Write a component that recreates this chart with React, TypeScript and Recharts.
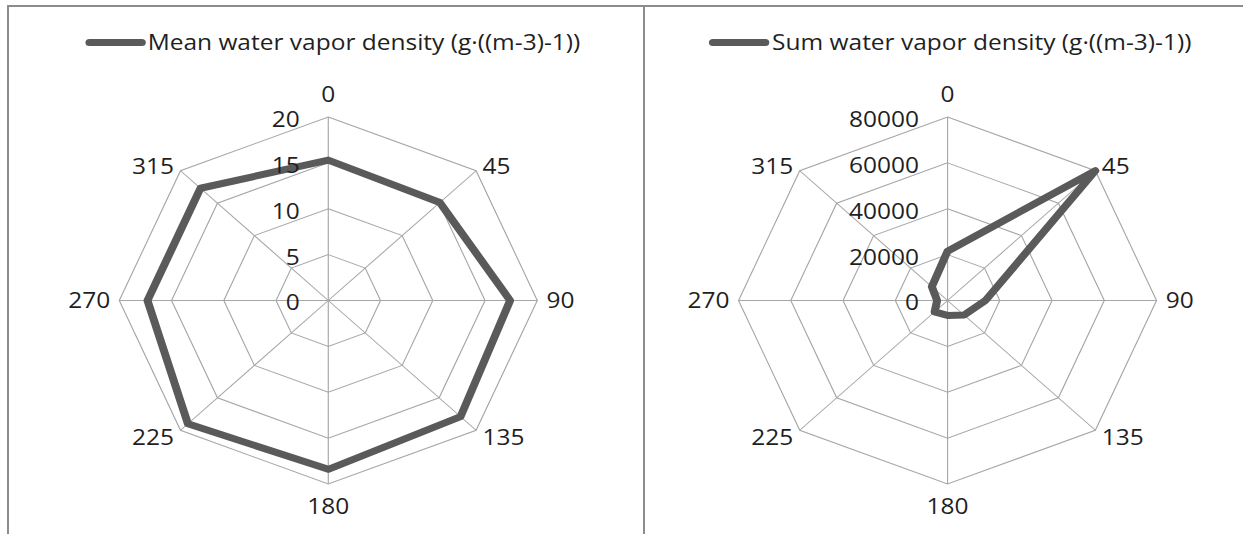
import { RadarChart, PolarGrid, PolarAngleAxis, PolarRadiusAxis, Radar, Legend } from 'recharts';

const directions = ['0', '45', '90', '135', '180', '225', '270', '315'];
const meanDensity = [15.3, 15.1, 17.4, 17.9, 18.4, 19.0, 17.3, 17.3];
const sumDensity = [21500, 80000, 14500, 9000, 6500, 7000, 4000, 8500];
const meanTicks = [0, 5, 10, 15, 20];
const sumTicks = [0, 20000, 40000, 60000, 80000];
const meanLabel = 'Mean water vapor density (g·((m-3)-1))';
const sumLabel = 'Sum water vapor density (g·((m-3)-1))';

// the source picture was widened, so the charts are stretched the same way
const STRETCH = 1.139;
const FONT = '"Open Sans", sans-serif';
const FONT_SIZE = 21.5;
const LINE = '#5a5a5a';
const GRID = '#a6a6a6';
const TEXT = '#1f1f1f';
const FRAME = '#8c8c8c';

function AngleTick({ x, y, payload, cx0 }: any) {
  const dx = x - cx0;
  let anchor = 'middle';
  if (dx > 1) anchor = 'start';
  else if (dx < -1) anchor = 'end';
  let base = y + 8;
  if (anchor === 'middle') base = payload.value === '0' ? y - 7 : y + 22;
  else if (Math.abs(Math.abs(dx) - Math.abs(y - 300.5)) < 20) base = y + 9;
  return (
    <text x={x} y={base} textAnchor={anchor} fill={TEXT} fontSize={FONT_SIZE} fontFamily={FONT}>
      {payload.value}
    </text>
  );
}

function RadiusTick({ x, y, payload }: any) {
  return (
    <text x={x - 25} y={y + 10} textAnchor="end" fill={TEXT} fontSize={FONT_SIZE} fontFamily={FONT}>
      {payload.value}
    </text>
  );
}

function LineLegend({ label }: { label: string }) {
  return (
    <div style={{ display: 'flex', alignItems: 'center', justifyContent: 'center', fontFamily: FONT, fontSize: FONT_SIZE, color: TEXT, lineHeight: '28px' }}>
      <span style={{ display: 'inline-block', width: 53, height: 7, borderRadius: 4, background: LINE, marginRight: 2 }} />
      <span>{label}</span>
    </div>
  );
}

interface PanelProps {
  left: number;
  width: number;
  cx: number;
  legendCenter: number;
  values: number[];
  ticks: number[];
  label: string;
}

function RadarPanel({ left, width, cx, legendCenter, values, ticks, label }: PanelProps) {
  const data = directions.map((d, i) => ({ dir: d, value: values[i] }));
  return (
    <div style={{ position: 'absolute', left, top: 0, width, height: 534, transform: `scaleX(${STRETCH})`, transformOrigin: 'left top' }}>
      <RadarChart width={width} height={534} data={data} cx={cx} cy={300.5} outerRadius={183.5} margin={{ top: 0, right: 0, bottom: 0, left: 0 }}>
        <PolarGrid gridType="polygon" stroke={GRID} strokeWidth={1} />
        <PolarAngleAxis dataKey="dir" tickLine={false} axisLine={false} tick={(p: any) => <AngleTick {...p} cx0={cx} />} />
        <PolarRadiusAxis
          angle={90}
          domain={[ticks[0], ticks[ticks.length - 1]]}
          ticks={ticks as any}
          tickCount={ticks.length}
          axisLine={false}
          tickLine={false}
          tick={(p: any) => <RadiusTick {...p} />}
        />
        <Radar
          dataKey="value"
          stroke={LINE}
          strokeWidth={7}
          strokeLinejoin="round"
          fill="none"
          fillOpacity={0}
          dot={false}
          isAnimationActive={false}
        />
        <Legend
          verticalAlign="top"
          wrapperStyle={{ top: 28, left: 0, width: legendCenter * 2 }}
          content={() => <LineLegend label={label} />}
        />
      </RadarChart>
    </div>
  );
}

export default function App() {
  return (
    <div style={{ position: 'relative', width: 1243, height: 534, overflow: 'hidden', background: '#fff' }}>
      <style>{'body { margin: 0; }'}</style>
      <div style={{ position: 'absolute', left: 7, top: 5, width: 634, height: 560, border: `2px solid ${FRAME}` }} />
      <div style={{ position: 'absolute', left: 643, top: 5, width: 640, height: 560, borderTop: `2px solid ${FRAME}`, borderLeft: `2px solid ${FRAME}` }} />
      <RadarPanel left={8} width={558} cx={281.2} legendCenter={285} values={meanDensity} ticks={meanTicks} label={meanLabel} />
      <RadarPanel left={644} width={526} cx={266.5} legendCenter={269} values={sumDensity} ticks={sumTicks} label={sumLabel} />
    </div>
  );
}
